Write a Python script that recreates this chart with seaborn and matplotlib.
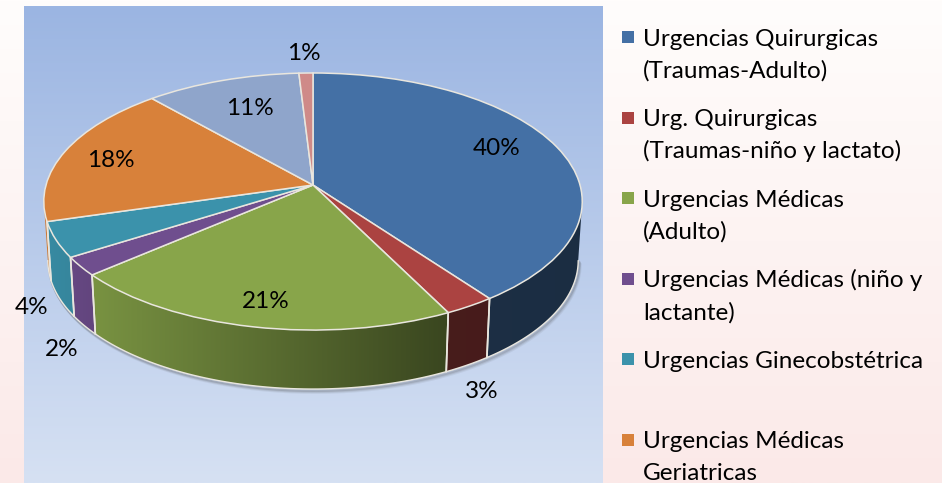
import numpy as np
import matplotlib
matplotlib.use('Agg')
import matplotlib.pyplot as plt
from matplotlib.patches import Polygon
from matplotlib.transforms import Transform
from matplotlib.colors import to_rgb
import seaborn as sns

# shares (labels are the rounded ones on the chart)
shares = [39.9, 2.7, 21.1, 2.35, 4.45, 18.0, 10.55, 0.95]
share_labels = ['40%', '3%', '21%', '2%', '4%', '18%', '11%', '1%']
legend_labels = ['Urgencias Quirurgicas\n(Traumas-Adulto)',
                 'Urg. Quirurgicas\n(Traumas-niño y lactato)',
                 'Urgencias Médicas\n(Adulto)',
                 'Urgencias Médicas (niño y\nlactante)',
                 'Urgencias Ginecobstétrica',
                 'Urgencias Médicas\nGeriatricas']
colors = ['#4470a5', '#ab4341', '#88a54a', '#6f4e8e', '#3b92ab', '#d8813a', '#8fa5cb', '#cf8a88']

sns.set_theme(style='white')
plt.rcParams['font.family'] = ['Lato', 'DejaVu Sans']
palette = sns.color_palette(colors)

W, H = 942, 483
CX, CY = 313, 185      # apex of the pie in pixels
A, B, K = 267.0, 126.4, 0.1285
DEPTH = 59
EDGE = '#e9e6de'


class TiltedDisk(Transform):
    # perspective view of the unit disk the pie is drawn on
    input_dims = output_dims = 2
    is_affine = False

    def transform_non_affine(self, values):
        values = np.asarray(values, dtype=float)
        d = 1 + K * values[:, 1]
        return np.column_stack([CX + A * values[:, 0] / d, CY - B * values[:, 1] / d])


def rim(deg, down=0.0):
    t = np.radians(deg)
    u, v = np.sin(t), np.cos(t)
    d = 1 + K * v
    x = A * u / d
    y = CY - B * v / d
    scale = 1 - 0.015 * down / DEPTH
    return CX + x * scale, y + down


def shade(x):
    return np.interp(x, [45, 450, 600], [0.95, 0.42, 0.40])


def vgrad(top, bottom, n=256):
    t = np.linspace(0, 1, n)[:, None, None]
    return np.array(to_rgb(top))[None, None, :] * (1 - t) + np.array(to_rgb(bottom))[None, None, :] * t


fig = plt.figure(figsize=(W / 100, H / 100), dpi=100)
ax = fig.add_axes([0, 0, 1, 1])

# page and panel backgrounds
ax.imshow(vgrad('#fffdfc', '#fbe9e8'), extent=[0, W, H, 0], aspect='auto', zorder=0)
ax.imshow(vgrad('#9bb5e2', '#d6e1f3'), extent=[24, 603, H, 6], aspect='auto', zorder=1)

# side wall: only the front part of the rim between the two horizontal extremes
edges = np.concatenate([[0], np.cumsum(shares)]) * 3.6
front_start, front_end = 97.4, 262.6

arc = np.linspace(front_start, front_end, 200)
bx, by = rim(arc, DEPTH)
for off, alpha in [(3.5, 0.08), (2.5, 0.12), (1.5, 0.18)]:
    ax.plot(bx + off * 0.6, by + off, color='#444444', alpha=alpha, lw=2, zorder=2)

xs = np.arange(40, 600)
for i, col in enumerate(palette):
    a0, a1 = max(edges[i], front_start), min(edges[i + 1], front_end)
    if a1 <= a0:
        continue
    t = np.linspace(a0, a1, 60)
    tx, ty = rim(t)
    dx, dy = rim(t, DEPTH)
    poly = np.vstack([np.column_stack([tx, ty]), np.column_stack([dx, dy])[::-1]])
    img = (np.array(col)[None, :] * shade(xs)[:, None])[None, :, :]
    im = ax.imshow(img, extent=[40, 600, H, 0], aspect='auto', zorder=3)
    im.set_clip_path(Polygon(poly, closed=True, transform=ax.transData))
    ax.plot(dx, dy, color=EDGE, lw=1, zorder=4)
    for a in (a0, a1):
        if a in (front_start, front_end):
            continue
        sx, sy = rim(a)
        ex, ey = rim(a, DEPTH)
        ax.plot([sx, ex], [sy, ey], color=EDGE, lw=1.2, zorder=4)

# top face
wedges, _ = ax.pie(shares, colors=palette, startangle=90, counterclock=False,
                   wedgeprops={'edgecolor': EDGE, 'linewidth': 1.1})
tilt = TiltedDisk() + ax.transData
for w in wedges:
    w.set_transform(tilt)
    w.set_clip_on(False)
    w.set_zorder(5)

# percent labels
label_xy = [(497, 148.5), (482, 391), (266, 302), (62, 349), (32, 308), (111, 160.5), (250, 108.5), (304, 53)]
for (lx, ly), s in zip(label_xy, share_labels):
    ax.text(lx, ly, s, ha='center', va='center', fontsize=17.5, color='black', zorder=6)

# legend, two text lines per entry at most
for i, lab in enumerate(legend_labels):
    y = 37 + i * 80.6
    ax.scatter([628], [y], marker='s', s=85, color=palette[i], linewidths=0, zorder=6)
    for j, line in enumerate(lab.split('\n')):
        ax.text(643, y + 8.5 + j * 32, line, ha='left', va='baseline', fontsize=17.5, color='black', zorder=6)

ax.set_aspect('auto')
ax.set_xlim(0, W)
ax.set_ylim(H, 0)
ax.axis('off')

fig.savefig('out.png', dpi=100)
